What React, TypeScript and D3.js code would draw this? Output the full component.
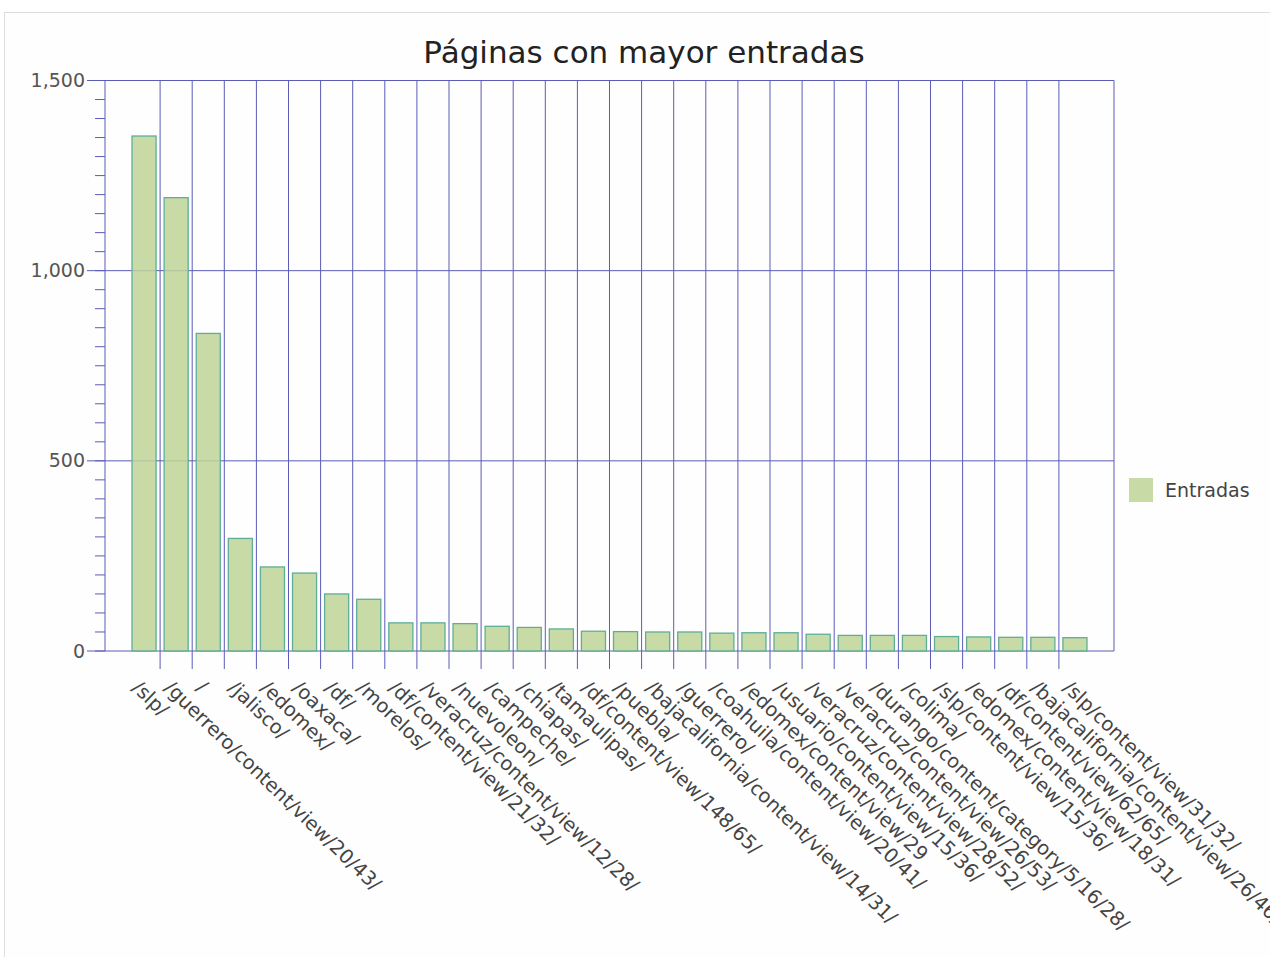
import React from 'react';
import * as d3 from 'd3';

const title = 'Páginas con mayor entradas';
const seriesName = 'Entradas';

const categories = [
  '/slp/',
  '/guerrero/content/view/20/43/',
  '/',
  '/jalisco/',
  '/edomex/',
  '/oaxaca/',
  '/df/',
  '/morelos/',
  '/df/content/view/21/32/',
  '/veracruz/content/view/12/28/',
  '/nuevoleon/',
  '/campeche/',
  '/chiapas/',
  '/tamaulipas/',
  '/df/content/view/148/65/',
  '/puebla/',
  '/bajacalifornia/content/view/14/31/',
  '/guerrero/',
  '/coahuila/content/view/20/41/',
  '/edomex/content/view/29',
  '/usuario/content/view/15/36/',
  '/veracruz/content/view/28/52/',
  '/veracruz/content/view/26/53/',
  '/durango/content/category/5/16/28/',
  '/colima/',
  '/slp/content/view/15/36/',
  '/edomex/content/view/18/31/',
  '/df/content/view/62/65/',
  '/bajacalifornia/content/view/26/46/',
  '/slp/content/view/31/32/',
];

const values = [
  1354, 1192, 835, 296, 221, 205, 150, 136, 74, 74,
  72, 65, 62, 58, 52, 51, 50, 50, 47, 48,
  48, 44, 41, 41, 41, 38, 37, 36, 36, 35,
];

const yTickValues = [0, 500, 1000, 1500];
const yMax = 1500;
const minorStep = 50;

const FONT = '"DejaVu Sans", Verdana, sans-serif';
const GRID = '#5c5cb6';

export default function App() {
  const W = 1270;
  const H = 957;
  const left = 105;
  const right = 1114;
  const top = 80.5;
  const bottom = 651;

  const x = d3
    .scaleBand<string>()
    .domain(categories)
    .range([128, 1091])
    .paddingInner(0.25)
    .paddingOuter(0.125);
  const y = d3.scaleLinear().domain([0, yMax]).range([bottom, top]);
  const step = x.step();
  const bw = x.bandwidth();
  const minorTicks = d3.range(0, yMax + 1, minorStep);
  const fmt = d3.format(',');

  return (
    <svg
      width={W}
      height={H}
      style={{ position: 'absolute', left: 0, top: 0, fontFamily: FONT }}
    >
      <rect x={4.5} y={12.5} width={1300} height={1000} fill="#fefefe" stroke="#dddddd" />
      <text x={644} y={63} textAnchor="middle" fontSize={31} fill="#222">
        {title}
      </text>

      {/* vertical gridlines + x ticks */}
      {categories.slice(0, -1).map((c) => {
        const gx = (x(c) as number) + bw + (step - bw) / 2;
        return <line key={'vg' + c} x1={gx} x2={gx} y1={top} y2={669} stroke={GRID} strokeWidth={1} />;
      })}

      {/* horizontal gridlines */}
      {yTickValues.map((t) => (
        <line key={'hg' + t} x1={87} x2={right} y1={y(t)} y2={y(t)} stroke={GRID} strokeWidth={1} />
      ))}
      {/* minor ticks */}
      {minorTicks.map((t) => (
        <line key={'mt' + t} x1={95} x2={left} y1={y(t)} y2={y(t)} stroke={GRID} strokeWidth={1} />
      ))}
      {/* frame */}
      <line x1={left} x2={left} y1={top} y2={bottom} stroke={GRID} />
      <line x1={right} x2={right} y1={top} y2={bottom} stroke={GRID} />

      {/* bars */}
      {categories.map((c, i) => (
        <rect
          key={'b' + c}
          x={x(c) as number}
          y={y(values[i])}
          width={bw}
          height={bottom - y(values[i])}
          fill="#bed395"
          fillOpacity={0.85}
          stroke="#5fae98"
          strokeWidth={1.3}
        />
      ))}

      {/* y labels */}
      {yTickValues.map((t) => (
        <text key={'yl' + t} x={85} y={y(t)} dy="0.35em" textAnchor="end" fontSize={19} fill="#555">
          {fmt(t)}
        </text>
      ))}

      {/* x labels */}
      {categories.map((c) => {
        const cx = (x(c) as number) + bw / 2;
        return (
          <text
            key={'xl' + c}
            transform={`translate(${cx - 13},689) rotate(44)`}
            fontSize={19.5}
            fill="#444"
          >
            {c}
          </text>
        );
      })}

      {/* legend */}
      <rect x={1129} y={478} width={24} height={24} fill="#c8daa5" />
      <text x={1165} y={490} dy="0.35em" fontSize={19} fill="#444">
        {seriesName}
      </text>
    </svg>
  );
}
